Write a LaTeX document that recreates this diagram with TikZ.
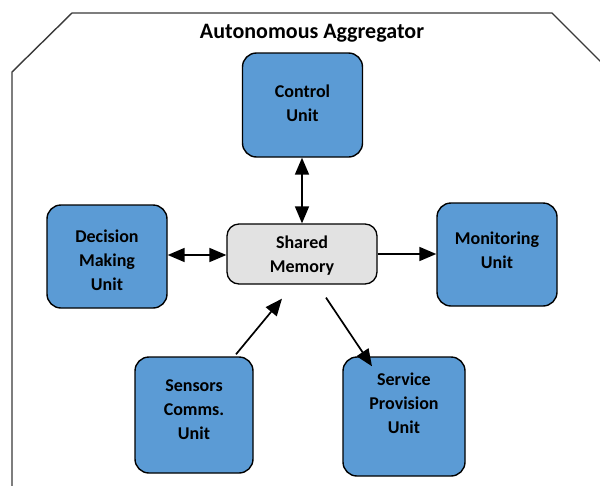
\documentclass[tikz,border=0pt]{standalone}
\usepackage{fontspec}
\setmainfont{Carlito}
\usetikzlibrary{arrows.meta}
\definecolor{unitblue}{HTML}{5B9BD5}
\definecolor{memgray}{HTML}{E2E2E2}
\definecolor{frame}{HTML}{3A3A3A}
\begin{document}
\begin{tikzpicture}[x=1pt,y=-1pt,
  unitbox/.style={draw=black, line width=1.4pt, fill=unitblue, rounded corners=14pt, inner sep=0pt},
  membox/.style={draw=black, line width=1.3pt, fill=memgray, rounded corners=12pt, inner sep=0pt},
  boxtext/.style={align=center, inner sep=0pt, font=\fontsize{18}{24}\selectfont\bfseries},
  conn/.style={line width=1.7pt, -{Triangle[length=17pt,width=14pt]}},
  bconn/.style={line width=1.7pt, {Triangle[length=17pt,width=14pt]}-{Triangle[length=17pt,width=14pt]}}
]
\useasboundingbox (0,0) rectangle (600,485);
\fill[white] (0,0) rectangle (600,485);
\begin{scope}
\clip (0,0) rectangle (600,485);
\draw[frame, line width=1.4pt] (12,500) -- (12,72) -- (72,13) -- (552,13) -- (620,81);
\end{scope}
\node[font=\fontsize{22}{24}\selectfont\bfseries] (title) at (312,33) {Autonomous Aggregator};

\node[unitbox, minimum width=120pt, minimum height=104pt] (control) at (302.5,105) {};
\node[unitbox, minimum width=120pt, minimum height=103pt] (decision) at (107,256.5) {};
\node[membox, minimum width=150pt, minimum height=60pt] (shared) at (302,254) {};
\node[unitbox, minimum width=120pt, minimum height=103pt] (monitor) at (497,254.5) {};
\node[unitbox, minimum width=118pt, minimum height=116pt] (sensors) at (194,415) {};
\node[unitbox, minimum width=122pt, minimum height=119pt] (service) at (404,416.5) {};

\node[boxtext] (controltext) at (302.5,103) {Control\\Unit};
\node[boxtext] (decisiontext) at (107,260) {Decision\\Making\\Unit};
\node[boxtext] (sharedtext) at (302,255.5) {Shared\\Memory};
\node[boxtext] (monitortext) at (497,250.5) {Monitoring\\Unit};
\node[boxtext] (sensorstext) at (194,409.5) {Sensors\\Comms.\\Unit};
\node[boxtext] (servicetext) at (404,403.5) {Service\\Provision\\Unit};

\draw[bconn] ([xshift=-0.5pt]control.south) -- ([xshift=-0pt]shared.north);
\draw[bconn] ([yshift=1.5pt]decision.east) -- ([yshift=-1pt]shared.west);
\draw[conn] (shared.east) -- ([yshift=0.5pt]monitor.west);
\draw[conn] ([xshift=42pt,yshift=2pt]sensors.north) -- ([xshift=-20pt,yshift=-14pt]shared.south);
\draw[conn] ([xshift=24pt,yshift=-13pt]shared.south) -- ([xshift=-32pt,yshift=-10pt]service.north);
\end{tikzpicture}
\end{document}
